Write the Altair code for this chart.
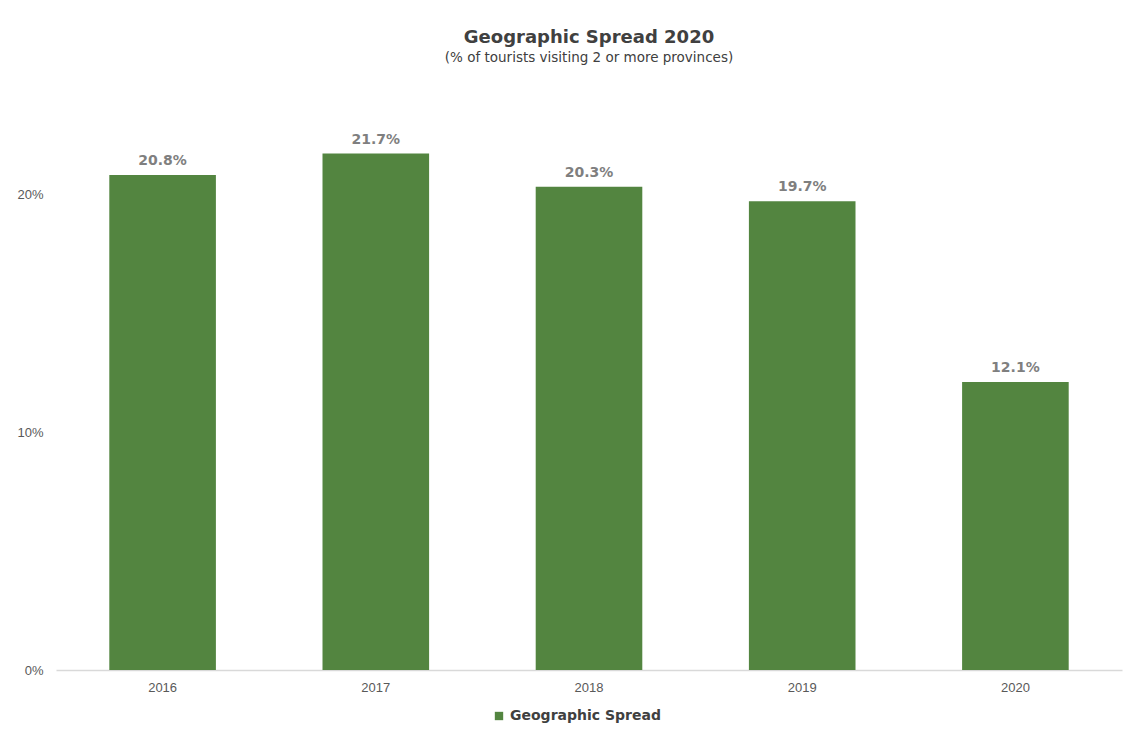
import altair as alt
import pandas as pd

years = ["2016", "2017", "2018", "2019", "2020"]
values = [0.208, 0.217, 0.203, 0.197, 0.121]
series = ["Geographic Spread"] * 5

df = pd.DataFrame({"year": years, "value": values, "series": series})

GREEN = "#538540"

base = alt.Chart(df).encode(
    x=alt.X("year:N", sort=years,
            scale=alt.Scale(paddingInner=0.5, paddingOuter=0.25),
            axis=alt.Axis(title=None, labelAngle=0, ticks=False, domain=True,
                          domainColor="#D9D9D9", domainWidth=1.5,
                          labelFont="Liberation Sans", labelFontSize=13,
                          labelColor="#595959", labelPadding=11)),
    y=alt.Y("value:Q", scale=alt.Scale(domain=[0, 0.25], nice=False),
            axis=alt.Axis(title=None, values=[0, 0.1, 0.2], format=".0%",
                          grid=False, ticks=False, domain=False,
                          labelFont="Liberation Sans", labelFontSize=13,
                          labelColor="#595959", labelPadding=13)),
)

bars = base.mark_bar(color=GREEN).encode(
    color=alt.Color("series:N",
                    scale=alt.Scale(range=[GREEN]),
                    legend=alt.Legend(title=None, orient="none",
                                      legendX=436, legendY=634,
                                      symbolType="square", symbolSize=70,
                                      symbolStrokeWidth=0,
                                      labelFont="DejaVu Sans", labelFontSize=14,
                                      labelFontWeight="bold",
                                      labelColor="#404040"))
)

labels = base.mark_text(baseline="bottom", dy=-7, font="DejaVu Sans",
                        fontSize=14, fontWeight="bold", color="#7F7F7F").encode(
    text=alt.Text("value:Q", format=".1%")
)

chart = alt.layer(bars, labels).properties(
    width=1066, height=595,
    title=alt.TitleParams(
        text="Geographic Spread 2020",
        subtitle="(% of tourists visiting 2 or more provinces)",
        font="DejaVu Sans", fontSize=18, fontWeight="bold", color="#404040",
        subtitleFont="DejaVu Sans", subtitleFontSize=13.5, subtitleColor="#404040",
        subtitlePadding=4, anchor="middle", offset=11,
    ),
    autosize=alt.AutoSizeParams(type="none"),
    padding={"left": 48, "top": 67, "right": 8, "bottom": 62},
).configure(background="white").configure_view(strokeWidth=0, stroke=None)

chart.save("out.html", embed_options={"renderer": "svg", "actions": False})
